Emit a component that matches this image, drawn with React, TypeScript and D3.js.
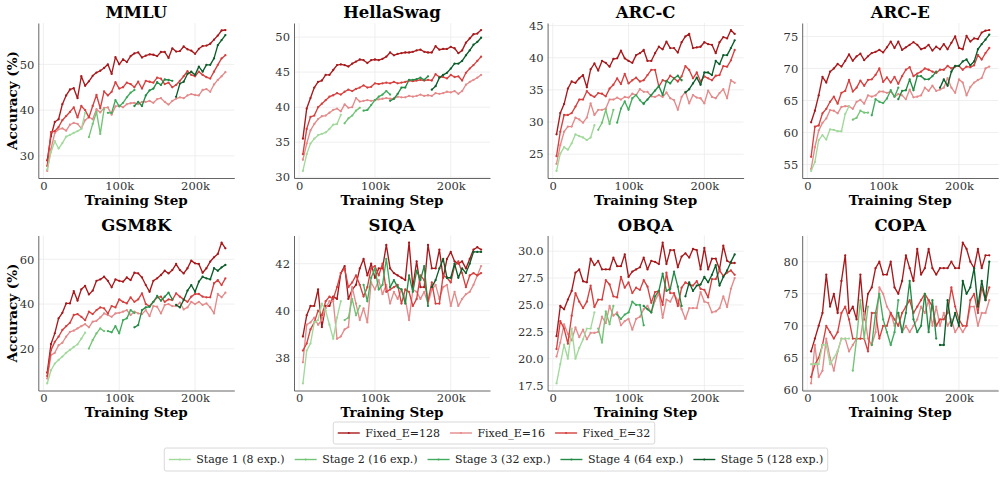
import React, { useEffect, useRef } from "react";
import * as d3 from "d3";

// checkpoints, in thousands of training steps
const steps = [
  5, 10, 15, 20, 25, 30, 35, 40, 45, 50, 55, 60, 65, 70, 75, 80, 85, 90, 95, 100, 105, 110, 115, 120,
  125, 130, 135, 140, 145, 150, 155, 160, 165, 170, 175, 180, 185, 190, 195, 200, 205, 210, 215, 220,
  225, 230, 235, 240,
];
const stage1Steps = [5, 10, 15, 20, 25, 30, 35, 40, 45, 50, 55];
const stage2Steps = [60, 65, 70, 75, 80];
const stage3Steps = [85, 90, 95, 100, 105, 110, 115, 120];
const stage4Steps = [120, 125, 130, 135, 140, 145, 150, 155, 160, 165, 170];
const stage5Steps = [175, 180, 185, 190, 195, 200, 205, 210, 215, 220, 225, 230, 235, 240];
const stageSteps = [stage1Steps, stage2Steps, stage3Steps, stage4Steps, stage5Steps];

const xTicks = [0, 100, 200];
const xTickLabels = ["0", "100k", "200k"];

const fixedNames = ["Fixed_E=128", "Fixed_E=16", "Fixed_E=32"];
const fixedColors = ["#a8191c", "#e48a8a", "#d6403f"];
const stageNames = ["Stage 1 (8 exp.)", "Stage 2 (16 exp.)", "Stage 3 (32 exp.)", "Stage 4 (64 exp.)", "Stage 5 (128 exp.)"];
const stageColors = ["#a1d99b", "#74c476", "#41ab5d", "#238b45", "#0b5d2a"];

const benchmarks = ["MMLU", "HellaSwag", "ARC-C", "ARC-E", "GSM8K", "SIQA", "OBQA", "COPA"];

// ---- MMLU
const mmluTicks = [30, 40, 50];
const mmluE128 = [29.0, 34.3, 37.4, 38.0, 41.3, 43.2, 44.5, 44.8, 42.6, 47.4, 45.3, 46.3, 47.5, 48.2, 48.6, 49.2, 50.0, 47.9, 51.6, 50.0, 51.1, 50.5, 51.8, 52.4, 52.6, 51.5, 51.9, 52.2, 52.1, 51.8, 52.7, 52.7, 51.4, 53.5, 52.8, 52.9, 53.9, 53.3, 53.0, 52.3, 53.4, 54.0, 54.1, 54.5, 55.4, 56.3, 57.4, 57.5];
const mmluE16 = [26.7, 31.5, 35.0, 35.8, 36.0, 35.5, 36.8, 37.2, 37.0, 36.0, 37.8, 38.5, 38.0, 40.2, 39.5, 40.5, 40.6, 39.0, 40.8, 41.0, 40.6, 41.3, 41.5, 41.6, 41.3, 41.8, 41.8, 42.0, 41.6, 42.4, 42.6, 41.8, 41.2, 42.0, 42.5, 42.8, 42.6, 43.2, 43.5, 43.3, 43.2, 44.4, 44.6, 44.0, 45.6, 46.6, 47.4, 48.3];
const mmluE32 = [27.8, 35.2, 35.4, 36.3, 37.8, 38.7, 39.6, 40.6, 38.4, 40.9, 40.0, 38.4, 40.9, 43.3, 40.4, 44.1, 43.2, 44.0, 46.1, 44.7, 45.0, 46.0, 45.7, 45.0, 46.2, 44.7, 46.4, 46.2, 46.0, 47.1, 46.9, 45.7, 46.0, 45.0, 45.5, 46.4, 47.4, 48.5, 47.7, 47.4, 48.4, 47.7, 47.2, 46.9, 48.4, 49.9, 51.3, 52.0];
const mmluStages = [
  [27.0, 30.8, 33.2, 31.6, 32.8, 34.2, 34.6, 35.0, 35.4, 35.9, 39.4],
  [34.1, 37.0, 39.6, 34.8, 40.2],
  [39.4, 39.4, 42.2, 40.8, 41.6, 42.8, 43.8, 44.4],
  [40.9, 41.8, 40.9, 43.2, 44.3, 44.7, 46.1, 45.5, 46.7, 46.6, 46.4],
  [42.9, 45.8, 46.2, 47.9, 48.4, 47.7, 49.5, 48.4, 49.9, 49.9, 51.3, 54.2, 55.3, 56.4],
];

// ---- HellaSwag
const hellaTicks = [30, 35, 40, 45, 50];
const hellaE128 = [35.5, 39.8, 41.3, 42.8, 43.6, 43.8, 44.6, 44.6, 45.3, 46.0, 46.1, 46.0, 45.8, 46.2, 46.5, 46.8, 46.7, 46.3, 46.7, 46.8, 46.7, 46.9, 47.2, 47.8, 47.4, 47.6, 47.7, 47.8, 47.8, 47.9, 48.1, 48.2, 47.9, 47.8, 47.8, 48.7, 48.2, 48.3, 48.3, 48.6, 48.4, 47.7, 48.1, 49.2, 49.8, 50.4, 50.5, 51.0];
const hellaE16 = [32.5, 34.8, 36.7, 37.6, 38.3, 38.7, 38.8, 39.2, 39.6, 39.8, 39.4, 40.4, 39.9, 40.0, 41.3, 40.8, 40.9, 41.0, 40.9, 41.0, 41.1, 41.2, 41.3, 41.2, 41.2, 41.5, 41.4, 41.4, 41.6, 41.5, 41.6, 41.8, 41.6, 41.7, 41.6, 42.0, 41.9, 42.0, 42.2, 42.1, 42.3, 41.9, 42.3, 43.2, 43.6, 43.9, 44.2, 44.6];
const hellaE32 = [33.3, 36.9, 38.6, 38.8, 40.0, 40.5, 41.0, 41.5, 41.7, 42.0, 41.8, 42.2, 42.5, 42.3, 42.6, 42.8, 43.1, 42.8, 42.9, 43.4, 43.3, 43.4, 43.5, 43.4, 43.6, 43.4, 43.5, 43.6, 43.8, 43.7, 43.8, 43.9, 43.8, 43.9, 43.8, 44.7, 44.3, 44.3, 44.1, 44.6, 44.3, 44.4, 43.8, 44.9, 45.5, 46.0, 46.6, 47.2];
const hellaStages = [
  [30.9, 33.3, 34.8, 35.5, 36.0, 36.2, 36.4, 36.9, 37.5, 37.6, 38.9],
  [37.7, 38.4, 38.8, 39.5, 39.9],
  [39.5, 39.6, 40.3, 41.0, 41.5, 41.8, 42.3, 41.8],
  [40.9, 41.2, 41.9, 42.8, 42.8, 43.9, 43.9, 44.0, 44.2, 43.9, 44.4],
  [42.5, 43.0, 44.2, 44.6, 44.9, 45.5, 46.2, 46.2, 46.6, 47.4, 48.1, 48.9, 49.3, 49.9],
];

// ---- ARC-C
const arccTicks = [25, 30, 35, 40, 45];
const arccE128 = [28.1, 31.4, 32.8, 35.2, 36.3, 36.1, 36.8, 37.3, 35.4, 38.2, 39.1, 38.0, 39.5, 39.2, 38.6, 39.8, 39.9, 41.1, 39.9, 39.5, 39.2, 40.4, 40.7, 41.2, 39.5, 39.5, 40.7, 41.7, 41.3, 42.5, 41.5, 41.5, 40.8, 42.4, 43.3, 43.7, 41.5, 41.6, 41.7, 42.4, 42.1, 42.0, 40.7, 42.4, 43.2, 43.0, 44.3, 43.7];
const arccE16 = [23.5, 26.4, 28.5, 29.3, 29.3, 30.7, 30.4, 29.9, 30.7, 32.9, 31.1, 31.9, 31.9, 32.1, 33.5, 33.5, 33.8, 33.5, 33.9, 33.8, 34.4, 34.2, 35.1, 34.7, 34.7, 34.0, 33.9, 34.2, 33.9, 34.6, 33.7, 33.4, 31.9, 33.9, 34.7, 32.9, 34.2, 33.8, 33.7, 32.9, 34.9, 33.9, 33.7, 34.5, 35.1, 33.7, 36.5, 36.1];
const arccE32 = [24.7, 28.5, 31.1, 31.1, 31.4, 32.4, 33.5, 33.5, 34.8, 34.2, 33.9, 34.5, 34.4, 34.0, 35.2, 35.8, 36.8, 35.9, 37.5, 36.0, 36.5, 36.9, 36.3, 36.5, 37.3, 38.1, 38.1, 35.5, 36.5, 36.3, 37.2, 36.8, 36.3, 37.1, 38.7, 38.1, 36.8, 37.7, 36.3, 37.1, 36.8, 36.5, 37.2, 37.3, 38.7, 38.6, 39.6, 41.2];
const arccStages = [
  [22.4, 25.1, 26.1, 25.7, 26.7, 28.1, 27.8, 27.6, 27.2, 27.6, 29.5],
  [28.8, 29.9, 31.9, 29.7, 31.9],
  [29.9, 32.1, 33.2, 31.9, 33.7, 34.2, 33.4, 32.8],
  [32.9, 33.5, 34.2, 34.9, 35.6, 34.2, 36.4, 36.0, 36.8, 37.2, 36.5],
  [34.6, 35.1, 36.0, 36.9, 35.8, 37.7, 37.7, 37.3, 39.5, 39.0, 40.4, 40.4, 41.5, 42.7],
];

// ---- ARC-E
const arceTicks = [55, 60, 65, 70, 75];
const arceE128 = [61.6, 63.4, 65.8, 68.7, 67.8, 69.5, 70.0, 70.7, 70.3, 71.2, 72.2, 71.2, 71.9, 72.3, 71.3, 71.9, 72.4, 72.6, 72.9, 72.5, 73.3, 74.2, 73.2, 74.2, 72.9, 73.3, 73.7, 74.1, 73.7, 73.0, 73.2, 73.7, 72.8, 73.4, 73.0, 73.8, 73.0, 74.0, 75.0, 73.2, 73.0, 75.1, 74.2, 74.7, 74.6, 75.6, 75.9, 76.0];
const arceE16 = [54.3, 57.7, 60.3, 61.5, 62.2, 63.5, 63.4, 63.0, 64.0, 64.1, 64.1, 63.7, 64.8, 65.1, 64.5, 65.8, 65.6, 65.8, 66.4, 66.4, 66.2, 66.4, 65.6, 66.0, 65.8, 65.2, 66.7, 65.5, 65.6, 65.8, 67.0, 66.5, 67.3, 66.5, 66.7, 67.0, 68.5, 67.0, 66.2, 68.3, 67.8, 65.8, 67.1, 67.8, 68.2, 68.5, 70.0, 70.3];
const arceE32 = [56.2, 60.9, 61.1, 63.0, 63.7, 64.8, 65.6, 64.5, 66.2, 66.5, 68.2, 66.4, 67.0, 68.1, 67.3, 68.2, 68.3, 69.0, 70.0, 67.9, 68.6, 67.8, 68.7, 67.6, 68.8, 69.8, 70.2, 68.8, 69.2, 69.5, 70.0, 69.8, 69.5, 69.3, 69.8, 69.8, 70.4, 70.0, 70.3, 70.4, 69.8, 70.3, 70.2, 70.5, 72.1, 71.4, 72.4, 73.2];
const arceStages = [
  [54.0, 55.4, 58.8, 59.6, 58.9, 60.5, 60.4, 60.2, 60.2, 62.9, 64.1],
  [62.0, 62.3, 63.4, 63.1, 63.1],
  [62.7, 65.2, 64.8, 64.6, 65.3, 66.6, 65.6, 67.0],
  [65.2, 66.5, 66.6, 68.3, 66.6, 68.8, 68.8, 68.3, 68.3, 68.8, 69.5],
  [67.0, 68.3, 67.3, 69.5, 70.4, 70.4, 71.1, 71.4, 70.5, 71.1, 73.0, 73.8, 74.5, 75.3],
];

// ---- GSM8K
const gsmTicks = [20, 40, 60];
const gsmE128 = [9.3, 22.1, 26.9, 33.6, 36.1, 40.3, 40.3, 45.8, 41.5, 46.6, 48.1, 44.3, 46.0, 50.4, 51.0, 52.2, 50.4, 47.5, 51.0, 50.4, 50.0, 51.9, 50.7, 54.0, 53.7, 51.9, 48.5, 45.5, 50.4, 51.5, 53.0, 54.9, 53.7, 55.2, 57.9, 55.2, 53.7, 56.0, 59.4, 58.2, 57.9, 54.0, 56.0, 59.0, 60.9, 62.4, 67.5, 64.9];
const gsmE16 = [6.7, 17.2, 18.2, 21.6, 22.7, 25.4, 27.6, 28.1, 29.1, 30.1, 31.0, 29.6, 32.1, 32.5, 34.0, 35.8, 35.1, 34.3, 35.8, 36.1, 36.6, 37.3, 35.1, 36.6, 35.8, 35.5, 37.3, 34.6, 39.1, 38.8, 35.8, 39.6, 40.0, 39.1, 39.1, 40.6, 37.6, 38.5, 41.0, 40.0, 41.0, 39.6, 40.3, 38.5, 35.8, 44.5, 43.0, 45.1];
const gsmE32 = [7.8, 19.4, 23.1, 25.4, 28.4, 30.1, 31.6, 35.1, 35.5, 34.3, 32.8, 36.6, 35.5, 37.3, 38.5, 38.1, 35.8, 39.1, 38.5, 42.1, 41.0, 40.3, 43.0, 41.0, 42.1, 44.8, 40.0, 39.1, 41.0, 43.0, 43.3, 41.0, 42.1, 41.8, 44.8, 43.3, 42.1, 41.0, 43.3, 44.5, 44.5, 43.3, 43.0, 43.0, 49.3, 50.7, 48.5, 51.5];
const gsmStages = [
  [4.5, 10.4, 13.4, 15.0, 16.5, 18.2, 19.5, 20.8, 22.0, 24.5, 27.2],
  [20.1, 23.9, 26.9, 29.1, 27.9],
  [27.9, 27.4, 30.1, 26.9, 32.8, 33.6, 37.3, 36.0],
  [29.6, 30.6, 37.3, 38.5, 38.8, 41.0, 43.6, 41.5, 43.3, 45.1, 42.1],
  [39.6, 38.5, 41.8, 46.0, 48.5, 45.5, 50.0, 52.2, 51.5, 51.0, 56.0, 54.9, 56.4, 57.5],
];

// ---- SIQA
const siqaTicks = [38, 40, 42];
const siqaE128 = [38.9, 39.8, 40.2, 40.2, 40.9, 39.3, 40.2, 40.2, 40.6, 40.5, 41.6, 41.9, 40.5, 40.9, 41.1, 41.8, 42.2, 41.5, 42.0, 41.4, 41.8, 41.8, 42.8, 41.8, 41.6, 41.5, 41.4, 41.3, 42.9, 41.0, 42.1, 41.0, 41.0, 42.8, 41.8, 41.8, 42.6, 41.4, 42.2, 42.5, 42.1, 42.0, 42.1, 41.8, 42.2, 42.6, 42.7, 42.6];
const siqaE16 = [37.8, 39.4, 39.5, 39.7, 39.4, 39.6, 40.1, 40.4, 40.4, 38.8, 38.9, 39.2, 39.3, 41.0, 40.3, 39.6, 40.1, 39.5, 41.2, 40.9, 41.3, 40.7, 41.1, 40.3, 40.8, 40.5, 40.9, 40.5, 39.6, 40.9, 40.8, 40.5, 40.8, 40.3, 40.9, 41.1, 40.5, 41.0, 41.1, 40.2, 40.8, 40.2, 40.5, 40.7, 40.8, 41.1, 41.5, 41.9];
const siqaE32 = [38.3, 38.6, 39.2, 39.5, 40.0, 39.8, 40.4, 40.6, 40.5, 41.0, 41.6, 41.8, 41.0, 41.2, 41.5, 41.1, 40.6, 41.0, 41.8, 41.9, 41.5, 42.0, 40.8, 40.9, 41.0, 41.1, 40.3, 40.9, 40.8, 40.2, 40.5, 41.5, 41.3, 40.4, 41.2, 40.3, 40.3, 41.5, 41.4, 41.2, 41.9, 42.1, 41.6, 41.0, 41.5, 41.6, 41.5, 41.6];
const siqaStages = [
  [36.9, 38.3, 38.6, 39.5, 39.6, 40.3, 40.0, 39.4, 38.8, 39.7, 40.4],
  [39.6, 39.7, 40.5, 39.8, 40.2],
  [41.1, 40.4, 41.4, 41.8, 40.9, 41.1, 42.2, 41.0],
  [41.0, 41.3, 41.0, 40.9, 40.3, 41.5, 40.8, 41.7, 41.3, 41.9, 40.2],
  [41.0, 41.3, 41.8, 42.2, 41.4, 41.4, 42.0, 41.4, 41.8, 41.6, 42.0, 42.5, 42.5, 42.5],
];

// ---- OBQA
const obqaTicks = [17.5, 20, 22.5, 25, 27.5, 30];
const obqaE128 = [22.1, 24.9, 24.6, 25.5, 26.3, 28.0, 28.3, 27.2, 27.1, 29.3, 28.7, 29.1, 28.3, 28.3, 28.3, 29.4, 28.6, 28.6, 29.7, 27.6, 28.1, 28.3, 28.5, 29.4, 28.3, 29.1, 29.0, 28.8, 30.8, 28.8, 30.1, 30.1, 28.5, 29.5, 29.8, 29.4, 30.2, 30.1, 28.3, 30.3, 28.3, 29.3, 29.3, 28.3, 30.5, 29.1, 28.9, 28.9];
const obqaE16 = [20.2, 21.5, 23.2, 22.3, 21.7, 22.9, 22.0, 22.7, 21.8, 22.4, 22.4, 22.5, 23.9, 23.3, 24.9, 24.0, 24.3, 23.1, 23.5, 23.7, 22.7, 23.7, 23.9, 24.6, 24.9, 24.3, 25.4, 26.1, 23.8, 25.5, 25.3, 26.0, 25.4, 24.6, 23.7, 24.7, 24.7, 24.7, 26.2, 25.3, 25.2, 24.3, 24.4, 24.7, 25.8, 24.8, 26.5, 27.5];
const obqaE32 = [20.9, 23.5, 22.8, 21.4, 24.0, 26.1, 25.3, 24.7, 25.3, 26.8, 24.8, 25.5, 25.5, 27.3, 26.9, 25.8, 25.7, 27.6, 26.6, 27.1, 26.1, 26.6, 26.4, 27.3, 26.7, 25.2, 26.2, 26.3, 25.0, 28.0, 26.1, 26.1, 24.9, 26.6, 27.1, 26.9, 26.8, 27.2, 26.5, 26.4, 25.7, 27.4, 27.4, 28.2, 27.7, 28.0, 28.2, 27.8];
const obqaStages = [
  [17.7, 19.5, 21.3, 20.0, 22.8, 20.0, 21.0, 21.8, 22.8, 22.8, 24.3],
  [22.8, 21.5, 24.4, 23.2, 24.9],
  [24.1, 23.7, 24.1, 24.3, 25.3, 25.0, 25.0, 23.1],
  [24.9, 24.6, 24.3, 25.8, 26.3, 27.9, 26.3, 26.5, 28.1, 26.7, 24.9],
  [25.8, 27.1, 26.3, 26.8, 26.9, 27.6, 27.1, 27.8, 28.7, 26.8, 27.6, 28.2, 29.0, 29.7],
];

// ---- COPA
const copaTicks = [60, 65, 70, 75, 80];
const copaE128 = [66, 68, 70, 72, 78, 73, 75, 72, 77, 81, 72, 73, 71, 78, 71, 75, 76, 79, 80, 78, 78, 80, 76, 75, 77, 81, 79, 77, 82, 78, 79, 82, 79, 78, 79, 79, 79, 80, 79, 79, 83, 82, 80, 79, 82, 79, 81, 81];
const copaE16 = [61, 67, 62, 63, 68, 65, 63, 66, 68, 68, 66, 67, 68, 68, 72, 68, 67, 69, 76, 75, 73, 72, 70, 72, 69, 70, 69, 70, 71, 73, 72, 74, 70, 73, 70, 72, 70, 71, 69, 70, 69, 70, 73, 73, 70, 72, 72, 74];
const copaE32 = [62, 64, 65, 67, 70, 69, 68, 69, 72, 73, 71, 68, 68, 68, 68, 66, 72, 72, 68, 70, 70, 72, 71, 70, 72, 73, 74, 72, 73, 74, 75, 74, 73, 70, 71, 71, 72, 76, 73, 71, 70, 70, 74, 75, 72, 76, 74, 76];
const copaStages = [
  [64, 64, 64, 67, 67, 64, 65, 66, 68, 68, 68],
  [63, 68, 74, 68, 73],
  [67, 72, 75, 71, 69, 67, 69, 74],
  [72, 69, 72, 77, 71, 69, 70, 75, 69, 74, 68],
  [67, 67, 74, 70, 72, 70, 77, 75, 76, 79, 73, 77, 74, 80],
];

const panels = [
  { ticks: mmluTicks, fixed: [mmluE128, mmluE16, mmluE32], stages: mmluStages, fmt: "d" },
  { ticks: hellaTicks, fixed: [hellaE128, hellaE16, hellaE32], stages: hellaStages, fmt: "d" },
  { ticks: arccTicks, fixed: [arccE128, arccE16, arccE32], stages: arccStages, fmt: "d" },
  { ticks: arceTicks, fixed: [arceE128, arceE16, arceE32], stages: arceStages, fmt: "d" },
  { ticks: gsmTicks, fixed: [gsmE128, gsmE16, gsmE32], stages: gsmStages, fmt: "d" },
  { ticks: siqaTicks, fixed: [siqaE128, siqaE16, siqaE32], stages: siqaStages, fmt: "d" },
  { ticks: obqaTicks, fixed: [obqaE128, obqaE16, obqaE32], stages: obqaStages, fmt: ".1f" },
  { ticks: copaTicks, fixed: [copaE128, copaE16, copaE32], stages: copaStages, fmt: "d" },
];

const SERIF = "'DejaVu Serif', serif";

function padded(vals: number[]): [number, number] {
  const [lo, hi] = d3.extent(vals) as [number, number];
  const pad = (hi - lo) * 0.05;
  return [lo - pad, hi + pad];
}

function drawLegend(
  svg: d3.Selection<SVGSVGElement, unknown, null, undefined>,
  names: string[],
  colors: string[],
  cx: number,
  cy: number,
  boxH: number
) {
  const g = svg.append("g");
  const handleLen = 22;
  const gap = 5.5;
  const colGap = 10;
  const pad = 4.5;
  let cursor = pad;
  names.forEach((name, i) => {
    const item = g.append("g");
    item
      .append("line")
      .attr("x1", cursor)
      .attr("x2", cursor + handleLen)
      .attr("y1", 0)
      .attr("y2", 0)
      .attr("stroke", colors[i])
      .attr("stroke-width", 1.4);
    item
      .append("circle")
      .attr("cx", cursor + handleLen / 2)
      .attr("cy", 0)
      .attr("r", 1.1)
      .attr("fill", colors[i]);
    const t = item
      .append("text")
      .attr("x", cursor + handleLen + gap)
      .attr("y", 0)
      .attr("dy", "0.35em")
      .attr("font-family", SERIF)
      .attr("font-size", 11)
      .attr("fill", "#222")
      .text(name);
    const w = (t.node() as SVGTextElement).getComputedTextLength();
    cursor += handleLen + gap + w + (i < names.length - 1 ? colGap : 0);
  });
  const width = cursor + pad;
  g.insert("rect", ":first-child")
    .attr("x", 0)
    .attr("y", -boxH / 2)
    .attr("width", width)
    .attr("height", boxH)
    .attr("rx", 2)
    .attr("fill", "#fff")
    .attr("stroke", "#d4d4d4")
    .attr("stroke-width", 0.9);
  g.attr("transform", `translate(${cx - width / 2},${cy})`);
}

function drawChart(el: SVGSVGElement) {
  const svg = d3.select(el);
  svg.selectAll("*").remove();

  const W = 196,
    H = 155;
  const colLeft = [38.3, 294, 547.6, 802.2];
  const rowTop = [23, 235.5];

  panels.forEach((p, i) => {
    const left = colLeft[i % 4];
    const top = rowTop[Math.floor(i / 4)];
    const x = d3.scaleLinear().domain(padded(steps)).range([left, left + W]);
    const allVals = [...p.fixed.flat(), ...p.stages.flat()];
    const y = d3.scaleLinear().domain(padded(allVals)).range([top + H, top]);

    const g = svg.append("g");

    // faint grid
    g.selectAll(".gy")
      .data(p.ticks)
      .join("line")
      .attr("x1", left)
      .attr("x2", left + W)
      .attr("y1", (d) => y(d))
      .attr("y2", (d) => y(d))
      .attr("stroke", "#ebebeb")
      .attr("stroke-width", 0.8);
    g.selectAll(".gx")
      .data(xTicks)
      .join("line")
      .attr("x1", (d) => x(d))
      .attr("x2", (d) => x(d))
      .attr("y1", top)
      .attr("y2", top + H)
      .attr("stroke", "#ebebeb")
      .attr("stroke-width", 0.8);

    // axes
    const yAxis = g
      .append("g")
      .attr("transform", `translate(${left},0)`)
      .call(
        d3
          .axisLeft(y)
          .tickValues(p.ticks)
          .tickFormat(d3.format(p.fmt) as any)
          .tickSize(0)
          .tickPadding(4)
      );
    const xAxis = g
      .append("g")
      .attr("transform", `translate(0,${top + H})`)
      .call(
        d3
          .axisBottom(x)
          .tickValues(xTicks)
          .tickFormat((d, k) => xTickLabels[k])
          .tickSize(0)
          .tickPadding(3.5)
      );
    [yAxis, xAxis].forEach((a) => {
      a.attr("font-family", SERIF).attr("font-size", 11.5);
      a.select(".domain").attr("stroke", "#555").attr("stroke-width", 0.9);
      a.selectAll("text").attr("fill", "#333");
    });

    // lines
    const line = d3
      .line<[number, number]>()
      .x((d) => x(d[0]))
      .y((d) => y(d[1]));

    const drawSeries = (xs: number[], vals: number[], color: string) => {
      const pts = vals.map((v, k) => [xs[k], v] as [number, number]);
      g.append("path")
        .datum(pts)
        .attr("d", line)
        .attr("fill", "none")
        .attr("stroke", color)
        .attr("stroke-width", 1.35)
        .attr("stroke-linejoin", "round");
      g.append("g")
        .selectAll("circle")
        .data(pts)
        .join("circle")
        .attr("cx", (d) => x(d[0]))
        .attr("cy", (d) => y(d[1]))
        .attr("r", 1.15)
        .attr("fill", color);
    };

    p.fixed.forEach((vals, k) => drawSeries(steps, vals, fixedColors[k]));
    p.stages.forEach((vals, k) => drawSeries(stageSteps[k], vals, stageColors[k]));

    // title
    g.append("text")
      .attr("x", left + W / 2)
      .attr("y", top - 5)
      .attr("text-anchor", "middle")
      .attr("font-family", SERIF)
      .attr("font-weight", "bold")
      .attr("font-size", 16.5)
      .attr("fill", "#000")
      .text(benchmarks[i]);

    g.append("text")
      .attr("x", left + W / 2)
      .attr("y", top + H + 26.5)
      .attr("text-anchor", "middle")
      .attr("font-family", SERIF)
      .attr("font-weight", "bold")
      .attr("font-size", 13.5)
      .attr("fill", "#000")
      .text("Training Step");

    if (i % 4 === 0) {
      g.append("text")
        .attr("transform", `translate(17,${top + H / 2}) rotate(-90)`)
        .attr("text-anchor", "middle")
        .attr("font-family", SERIF)
        .attr("font-weight", "bold")
        .attr("font-size", 13.5)
        .attr("fill", "#000")
        .text("Accuracy (%)");
    }
  });

  drawLegend(svg, fixedNames, fixedColors, 494, 433, 22);
  drawLegend(svg, stageNames, stageColors, 496, 459.5, 23);
}

export default function App() {
  const ref = useRef<SVGSVGElement>(null);
  useEffect(() => {
    if (ref.current) drawChart(ref.current);
  }, []);
  return (
    <svg
      ref={ref}
      width={1005}
      height={495}
      style={{ position: "absolute", left: 0, top: 0, background: "#fff" }}
    />
  );
}
